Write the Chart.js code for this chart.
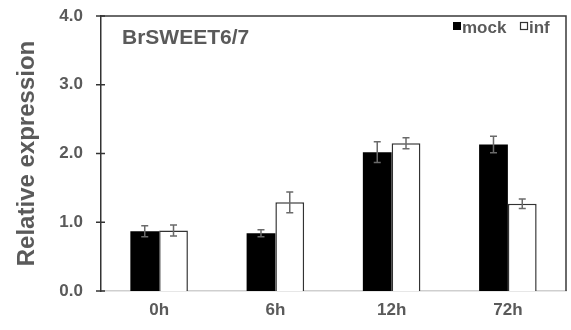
<!DOCTYPE html>
<html>
<head>
<meta charset="utf-8">
<script src="https://cdn.jsdelivr.net/npm/chart.js@4/dist/chart.umd.min.js"></script>
<style>
  html, body { margin: 0; padding: 0; background: #fff; }
  #wrap { width: 571px; height: 330px; }
</style>
</head>
<body>
<div id="wrap"><canvas id="expChart"></canvas></div>
<script>
const timePoints = ['0h', '6h', '12h', '72h'];
const mockValues = [0.87, 0.84, 2.02, 2.13];
const mockErrors = [0.08, 0.05, 0.15, 0.12];
const infValues = [0.88, 1.29, 2.15, 1.27];
const infErrors = [0.08, 0.15, 0.08, 0.07];
const yTicks = [0, 1, 2, 3, 4];
const geneName = 'BrSWEET6/7';

const textGray = '#5a5a5a';

// error bars, frame, crossing ticks, title and legend
const extras = {
    id: 'extras',
    afterDatasetsDraw(chart) {
        const ctx = chart.ctx;
        const area = chart.chartArea;
        const y = chart.scales.y;

        ctx.save();
        // error bars
        ctx.strokeStyle = '#6a6a6a';
        ctx.lineWidth = 1.5;
        chart.data.datasets.forEach((ds, i) => {
            const meta = chart.getDatasetMeta(i);
            meta.data.forEach((bar, j) => {
                const v = ds.data[j];
                const e = ds.errors[j];
                const top = y.getPixelForValue(v + e);
                const bot = y.getPixelForValue(v - e);
                const x = bar.x;
                ctx.beginPath();
                ctx.moveTo(x, top); ctx.lineTo(x, bot);
                ctx.moveTo(x - 3.5, top); ctx.lineTo(x + 3.5, top);
                ctx.moveTo(x - 3.5, bot); ctx.lineTo(x + 3.5, bot);
                ctx.stroke();
            });
        });

        // top and right frame
        ctx.strokeStyle = '#3a3a3a';
        ctx.lineWidth = 1.5;
        ctx.beginPath();
        ctx.moveTo(area.left, area.top);
        ctx.lineTo(area.right, area.top);
        ctx.lineTo(area.right, area.bottom);
        ctx.stroke();

        // ticks crossing the y axis
        ctx.strokeStyle = '#333';
        yTicks.forEach(t => {
            const py = y.getPixelForValue(t);
            ctx.beginPath();
            ctx.moveTo(area.left - 5, py);
            ctx.lineTo(area.left + 4, py);
            ctx.stroke();
        });

        // gene name
        ctx.fillStyle = textGray;
        ctx.font = 'bold 21px "Liberation Sans", Arial, sans-serif';
        ctx.textBaseline = 'alphabetic';
        ctx.textAlign = 'left';
        ctx.fillText(geneName, area.left + 21, area.top + 28);

        // legend
        ctx.font = 'bold 17px "Liberation Sans", Arial, sans-serif';
        const ly = area.top + 17;
        ctx.fillStyle = '#000';
        ctx.fillRect(453, ly - 11, 8, 8);
        ctx.fillStyle = textGray;
        ctx.fillText(chart.data.datasets[0].label, 462, ly);
        ctx.strokeStyle = '#333';
        ctx.lineWidth = 1.2;
        ctx.strokeRect(520.5, ly - 10.5, 7, 7);
        ctx.fillText(chart.data.datasets[1].label, 529, ly);
        ctx.restore();
    }
};

const data = {
    labels: timePoints,
    datasets: [
        {
            label: 'mock',
            data: mockValues,
            errors: mockErrors,
            backgroundColor: '#000',
            borderColor: '#000',
            borderWidth: 0
        },
        {
            label: 'inf',
            data: infValues,
            errors: infErrors,
            backgroundColor: '#fff',
            borderColor: '#333',
            borderWidth: 1.5
        }
    ]
};

const options = {
    responsive: true,
    maintainAspectRatio: false,
    animation: false,
    layout: { padding: { top: 16, right: 5, left: 0, bottom: 0 } },
    datasets: {
        bar: { categoryPercentage: 0.495, barPercentage: 1.0 }
    },
    plugins: {
        legend: { display: false },
        tooltip: { enabled: false }
    },
    scales: {
        x: {
            grid: { display: false, drawTicks: false },
            border: { display: true, color: '#cfcfcf', width: 1.5 },
            ticks: {
                color: textGray,
                padding: 9,
                font: { family: '"Liberation Sans", Arial, sans-serif', size: 17, weight: 'bold' }
            },
            afterFit(scale) {
                scale.height = 39;
                scale.paddingLeft = 0;
                scale.paddingRight = 0;
            }
        },
        y: {
            min: 0,
            max: 4,
            grid: { display: false, drawTicks: false },
            border: { display: true, color: '#333', width: 1.5 },
            ticks: {
                stepSize: 1,
                padding: 18,
                color: textGray,
                callback: v => v.toFixed(1),
                font: { family: '"Liberation Sans", Arial, sans-serif', size: 17, weight: 'bold' }
            },
            title: {
                display: true,
                text: 'Relative expression',
                color: textGray,
                padding: { top: 13, bottom: 0 },
                font: { family: '"Liberation Sans", Arial, sans-serif', size: 24, weight: 'bold' }
            },
            afterFit(scale) {
                scale.width = 101;
                scale.paddingTop = 0;
                scale.paddingBottom = 0;
            }
        }
    }
};

const ctx = document.getElementById('expChart');
ctx.chart = new Chart(ctx, {
    type: 'bar',
    data: data,
    options: options,
    plugins: [extras]
});
</script>
</body>
</html>
